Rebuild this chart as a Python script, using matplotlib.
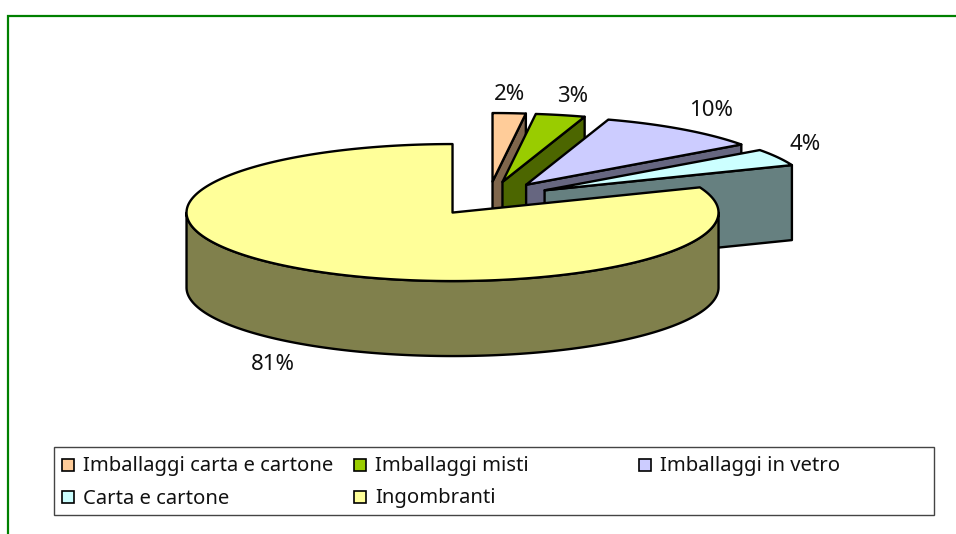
import numpy as np
import matplotlib
matplotlib.use("Agg")
import matplotlib.pyplot as plt
from matplotlib.patches import Polygon, Rectangle

categories = ["Imballaggi carta e cartone", "Imballaggi misti", "Imballaggi in vetro",
              "Carta e cartone", "Ingombranti"]
shares = [2, 3, 10, 4, 81]
top_colors = ["#FFCC99", "#99CC00", "#CCCCFF", "#CCFFFF", "#FFFF99"]
side_colors = ["#80664C", "#4C6600", "#666680", "#668080", "#80804C"]

plt.rcParams["font.family"] = ["Noto Sans", "DejaVu Sans"]
TXT = "#111111"

fig = plt.figure(figsize=(9.56, 5.34), dpi=100)
ax = fig.add_axes([0, 0, 1, 1])
ax.set_xlim(0, 956)
ax.set_ylim(534, 0)
ax.axis("off")

# frame
ax.plot([8.5, 8.5, 956], [534, 15.5, 15.5], color="#008000", lw=1.6, solid_joinstyle="miter")

# pie geometry in pixels
CX, CY, RX, RY, DEPTH = 488.5, 198.5, 266, 68.5, 75
EX, EY = 64, 17
LW = 1.7


def rim(a0, a1, cx, cy, n=80):
    t = np.radians(np.linspace(a0, a1, n))
    return np.column_stack([cx + RX * np.sin(t), cy - RY * np.cos(t)])


cum = np.cumsum([0] + shares) / sum(shares) * 360
for i in range(len(shares)):
    a0, a1 = cum[i], cum[i + 1]
    mid = np.radians((a0 + a1) / 2)
    cx = CX + EX * np.sin(mid)
    cy = CY - EY * np.cos(mid)
    apex = np.array([cx, cy])
    depth = np.array([0, DEPTH])
    kw = dict(edgecolor="black", linewidth=LW, joinstyle="round", facecolor=side_colors[i])
    # end radial face (faces the viewer for slices ending on the upper right)
    if a1 < 180:
        end = rim(a1, a1, cx, cy, 1)[0]
        ax.add_patch(Polygon([apex, end, end + depth, apex + depth], closed=True, **kw))
    # front rim
    lo, hi = max(a0, 90), min(a1, 270)
    if lo < hi:
        r = rim(lo, hi, cx, cy, 200)
        ax.add_patch(Polygon(np.vstack([r, (r + depth)[::-1]]), closed=True, **kw))
    # top face
    pts = np.vstack([apex, rim(a0, a1, cx, cy, 300)])
    ax.add_patch(Polygon(pts, closed=True, facecolor=top_colors[i], edgecolor="black",
                         linewidth=LW, joinstyle="round"))

# value labels
label_xy = [(510, 94), (573, 96), (711, 110), (805, 145), (273, 364)]
for v, (x, y) in zip(shares, label_xy):
    ax.text(x, y, f"{v}%", ha="center", va="center", fontsize=16, color=TXT)

# legend
ax.add_patch(Rectangle((54, 447), 880, 68, facecolor="white", edgecolor="#444444", lw=1.0))
legend_xy = [(68, 465), (360, 465), (645, 465), (68, 497), (360, 497)]
for c, col, (x, y) in zip(categories, top_colors, legend_xy):
    ax.add_patch(Rectangle((x - 6, y - 6), 12, 12, facecolor=col, edgecolor="black", lw=1.2))
    ax.text(x + 15, y + 1.5, c, ha="left", va="center", fontsize=14.6, color=TXT)

fig.savefig("out.png", dpi=100)
